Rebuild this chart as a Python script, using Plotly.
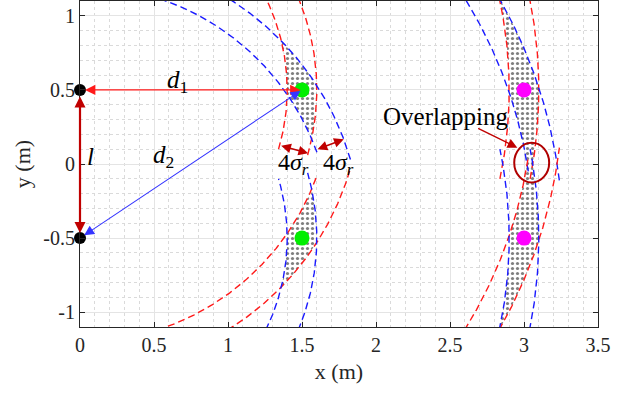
import numpy as np
import plotly.graph_objects as go

# ---------------- data ----------------
anchor_x = [0.0, 0.0]
anchor_y = [0.5, -0.5]
tag_x = [1.5, 1.5, 3.0, 3.0]
tag_y = [0.5, -0.5, 0.5, -0.5]
sigma_r = 0.05
# y where each dashed arc stops (per tag: [anchor1 inner/outer], [anchor2 inner/outer])
arc_cut_y = [
    [[0.10, 0.06], [0.08, 0.03]],
    [[-0.08, -0.03], [-0.10, -0.06]],
    [[-0.10, -0.10], [-0.05, -0.11]],
    [[0.05, 0.11], [0.10, 0.10]],
]
x_ticks = [0, 0.5, 1, 1.5, 2, 2.5, 3, 3.5]
x_tick_labels = ["0", "0.5", "1", "1.5", "2", "2.5", "3", "3.5"]
y_ticks = [-1, -0.5, 0, 0.5, 1]
y_tick_labels = ["-1", "-0.5", "0", "0.5", "1"]
x_range = [0, 3.5]
y_range = [-1.1, 1.1]

# ---------------- styles ----------------
RED = "#ff1a1a"
BLUE = "#1a1aff"
DARKRED = "#c00000"
SERIF = "Liberation Serif, Times New Roman, serif"
anchor_line_colors = [RED, BLUE]
tag_colors = ["#00ee00", "#00ee00", "#ff00ff", "#ff00ff"]
DASH = "7px,4px"

fig = go.Figure()

band = 2 * sigma_r


def dist(tx, ty, ax, ay):
    return float(np.hypot(tx - ax, ty - ay))


def circ_int(R1, R2):
    a1, a2 = anchor_y
    y = (R2 ** 2 - R1 ** 2 + a1 ** 2 - a2 ** 2) / (2 * (a1 - a2))
    x = np.sqrt(max(R1 ** 2 - (y - a1) ** 2, 0))
    return x, y


def arc_pts(cx, cy, p0, p1, n=40):
    t0 = np.arctan2(p0[1] - cy, p0[0] - cx)
    t1 = np.arctan2(p1[1] - cy, p1[0] - cx)
    t = np.linspace(t0, t1, n)
    R = np.hypot(p0[0] - cx, p0[1] - cy)
    return cx + R * np.cos(t), cy + R * np.sin(t)


# shaded intersections
for k in range(len(tag_x)):
    r1 = dist(tag_x[k], tag_y[k], anchor_x[0], anchor_y[0])
    r2 = dist(tag_x[k], tag_y[k], anchor_x[1], anchor_y[1])
    V_mm = circ_int(r1 - band, r2 - band)
    V_mp = circ_int(r1 - band, r2 + band)
    V_pp = circ_int(r1 + band, r2 + band)
    V_pm = circ_int(r1 + band, r2 - band)
    xs, ys = [], []
    for (c, a, b) in [(0, V_mm, V_mp), (1, V_mp, V_pp), (0, V_pp, V_pm), (1, V_pm, V_mm)]:
        ax_, ay_ = arc_pts(anchor_x[c], anchor_y[c], a, b)
        xs += list(ax_)
        ys += list(ay_)
    fig.add_trace(go.Scatter(
        x=xs, y=ys, mode="lines", fill="toself", line=dict(width=0),
        fillcolor="white",
        fillpattern=dict(shape=".", fgcolor="black", bgcolor="white", size=5, solidity=0.32),
        hoverinfo="skip", showlegend=False))

# dashed arcs
for k in range(len(tag_x)):
    upper = tag_y[k] > 0
    for c in range(2):
        d = dist(tag_x[k], tag_y[k], anchor_x[c], anchor_y[c])
        for i, s in enumerate([-1, 1]):
            R = d + s * band
            cy = anchor_y[c]
            cut = arc_cut_y[k][c][i]
            t_cut = np.arcsin(np.clip((cut - cy) / R, -1, 1))
            if upper:
                t_end = np.arcsin(np.clip((y_range[1] + 0.02 - cy) / R, -1, 1))
                t = np.linspace(t_cut, t_end, 200)
            else:
                t_end = np.arcsin(np.clip((y_range[0] - 0.02 - cy) / R, -1, 1))
                t = np.linspace(t_end, t_cut, 200)
            fig.add_trace(go.Scatter(
                x=anchor_x[c] + R * np.cos(t), y=cy + R * np.sin(t), mode="lines",
                line=dict(color=anchor_line_colors[c], width=1.4, dash=DASH),
                hoverinfo="skip", showlegend=False))

# points
fig.add_trace(go.Scatter(x=tag_x, y=tag_y, mode="markers",
                         marker=dict(size=15, color=tag_colors, line=dict(width=0)),
                         cliponaxis=False, showlegend=False))
fig.add_trace(go.Scatter(x=anchor_x, y=anchor_y, mode="markers",
                         marker=dict(size=12, color="black", line=dict(width=0)),
                         cliponaxis=False, showlegend=False))

ann = []


def arrow(x0, y0, x1, y1, color, width, size, side="end+start", standoff=0, startstandoff=0):
    ann.append(dict(x=x1, y=y1, ax=x0, ay=y0, xref="x", yref="y", axref="x", ayref="y",
                    text="", showarrow=True, arrowhead=2, startarrowhead=2, arrowside=side,
                    arrowcolor=color, arrowwidth=width, arrowsize=size, startarrowsize=size,
                    standoff=standoff, startstandoff=startstandoff))


# d1, d2, l arrows
arrow(tag_x[0], tag_y[0], anchor_x[0], anchor_y[0], RED, 1.3, 1.6, standoff=5)
arrow(tag_x[0], tag_y[0], anchor_x[1], anchor_y[1], "#3535ff", 1.1, 1.8, standoff=5)
arrow(anchor_x[0], anchor_y[0], anchor_x[1], anchor_y[1], DARKRED, 2.2, 1.0,
      standoff=5, startstandoff=5)

# 4 sigma arrows (radial between band edges)
sig_angles = [-15.5, 20.5]
for c in range(2):
    d = dist(tag_x[0], tag_y[0], anchor_x[c], anchor_y[c])
    th = np.deg2rad(sig_angles[c])
    p0 = (anchor_x[c] + (d - band) * np.cos(th), anchor_y[c] + (d - band) * np.sin(th))
    p1 = (anchor_x[c] + (d + band) * np.cos(th), anchor_y[c] + (d + band) * np.sin(th))
    arrow(p0[0], p0[1], p1[0], p1[1], DARKRED, 1.5, 1.3)

# overlapping arrow
arrow(2.68, 0.245, 2.955, 0.11, DARKRED, 1.4, 1.4, side="end")

fig.update_layout(annotations=ann)


def label(x, y, text, size=22, xanchor="center"):
    fig.add_annotation(x=x, y=y, xref="x", yref="y", text=text, showarrow=False,
                       xanchor=xanchor, yanchor="middle",
                       font=dict(family=SERIF, size=size, color="black"))


label(0.66, 0.56, "<i>d</i><sub>1</sub>", 25)
label(0.565, 0.05, "<i>d</i><sub>2</sub>", 25)
label(0.035, 0.05, "<i>l</i>", 25, xanchor="left")
label(1.44, 0.0, "4<i>σ</i><sub><i>r</i></sub>", 24)
label(1.745, 0.0, "4<i>σ</i><sub><i>r</i></sub>", 24)
label(2.47, 0.32, "Overlapping", 25)

fig.add_shape(type="circle", xref="x", yref="y", x0=2.934, x1=3.17, y0=-0.125, y1=0.143,
              line=dict(color="#b00000", width=2))

axis_common = dict(
    showline=True, linecolor="#262626", linewidth=1, mirror="allticks",
    ticks="inside", ticklen=5, tickcolor="#262626",
    showgrid=True, gridcolor="#e4e4e4", gridwidth=1, zeroline=False,
    tickfont=dict(family=SERIF, size=20, color="#262626"),
    minor=dict(dtick=0.1, showgrid=True, gridcolor="#dadada", griddash="dot", gridwidth=1),
)
fig.update_xaxes(range=x_range, tickvals=x_ticks, ticktext=x_tick_labels,
                 title=dict(text="x (m)", font=dict(family=SERIF, size=22, color="#262626"), standoff=8),
                 **axis_common)
fig.update_yaxes(range=y_range, tickvals=y_ticks, ticktext=y_tick_labels,
                 title=dict(text="y (m)", font=dict(family=SERIF, size=22, color="#262626"), standoff=6),
                 **axis_common)
fig.update_layout(width=623, height=394, margin=dict(l=80, r=25, t=1, b=67, autoexpand=False),
                  paper_bgcolor="white", plot_bgcolor="white", showlegend=False)

fig.write_html("out.html", config={"displayModeBar": False},
               post_script="document.body.style.margin='0';document.body.style.padding='0';")
